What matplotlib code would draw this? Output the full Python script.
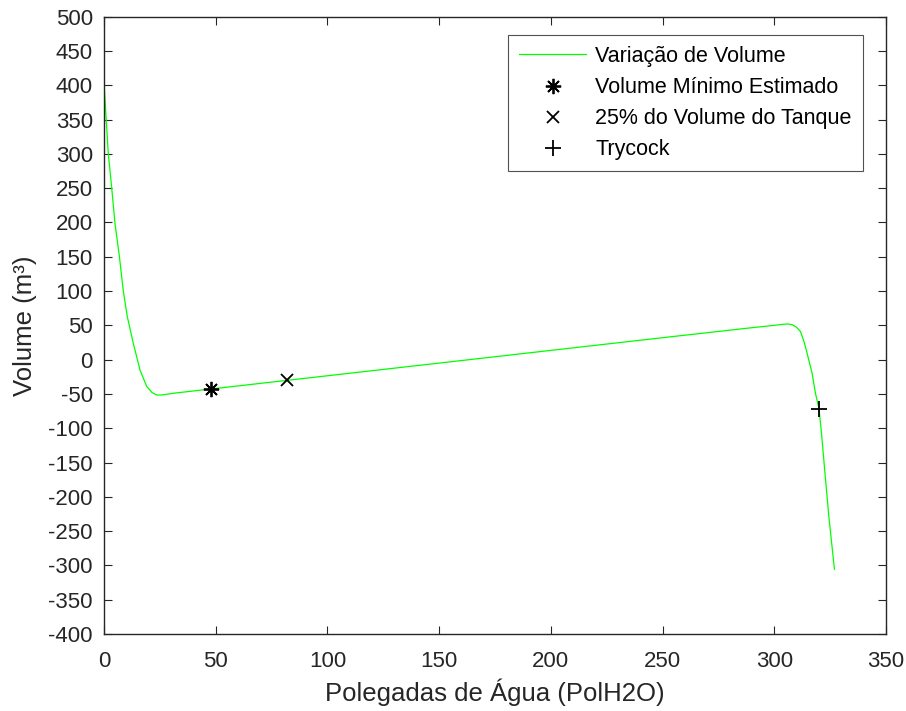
import numpy as np
import matplotlib
matplotlib.use("Agg")
import matplotlib.pyplot as plt

plt.rcParams['font.family'] = ['Liberation Sans', 'DejaVu Sans']
plt.rcParams['axes.unicode_minus'] = False

# curve
pol = [0, 1.9, 3.4, 4.9, 6.9, 8.6, 10.4, 13.1, 16.1, 19.1, 21.5, 23.6, 26, 31,
       50, 100, 150, 200, 250, 290, 300, 303, 305.7, 308, 310, 311.7, 313.3,
       314.7, 316.9, 318.4, 320, 321.1, 322.4, 324.4, 326.9]
vol = [403, 301, 252, 199, 150, 101, 63, 24, -15, -39, -48, -51.6, -51.5, -49,
       -42, -23.5, -5, 13.5, 32, 46.6, 50, 51.2, 52, 51, 47, 41, 26,
       9, -20, -49, -72, -107, -156, -229, -305.6]

vmin_x, vmin_y = [47.9], [-43]
q25_x, q25_y = [81.8], [-29.7]
try_x, try_y = [320], [-72]

fig = plt.figure(figsize=(9.06, 7.11), dpi=100)
ax = fig.add_axes([0.1148, 0.1083, 0.8632, 0.8682])

ax.plot(pol, vol, color=(0, 1, 0), lw=0.9, label="Variação de Volume")
ax.plot(vmin_x, vmin_y, ls='none', marker=(8, 2, 0), ms=11, mew=1.3,
        color='black', label="Volume Mínimo Estimado")
ax.plot(q25_x, q25_y, ls='none', marker='x', ms=9, mew=1.3,
        color='black', label="25% do Volume do Tanque")
ax.plot(try_x, try_y, ls='none', marker='+', ms=12, mew=1.3,
        color='black', label="Trycock")

ax.set_xlim(0, 350)
ax.set_ylim(-400, 500)
ax.set_xticks(np.arange(0, 351, 50))
ax.set_yticks(np.arange(-400, 501, 50))
ax.tick_params(direction='in', top=True, right=True, labelsize=16,
               length=6, width=0.8, colors='#262626')
ax.tick_params(axis='x', pad=12)
ax.tick_params(axis='y', pad=8)
for s in ax.spines.values():
    s.set_linewidth(1.0)
    s.set_color('#262626')

ax.set_xlabel("Polegadas de Água (PolH2O)", fontsize=18.5, color='#262626',
              labelpad=5)
ax.set_ylabel("Volume (m³)", fontsize=18.5, color='#262626', labelpad=8)

leg = ax.legend(loc='upper right', bbox_to_anchor=(0.97, 0.97), fontsize=15.5,
                frameon=True, fancybox=False, edgecolor='#262626',
                handlelength=3.15, handletextpad=0.42, borderpad=0.5,
                labelspacing=0.47, borderaxespad=0)
leg.get_frame().set_linewidth(0.8)

plt.savefig("out.png", dpi=100)
